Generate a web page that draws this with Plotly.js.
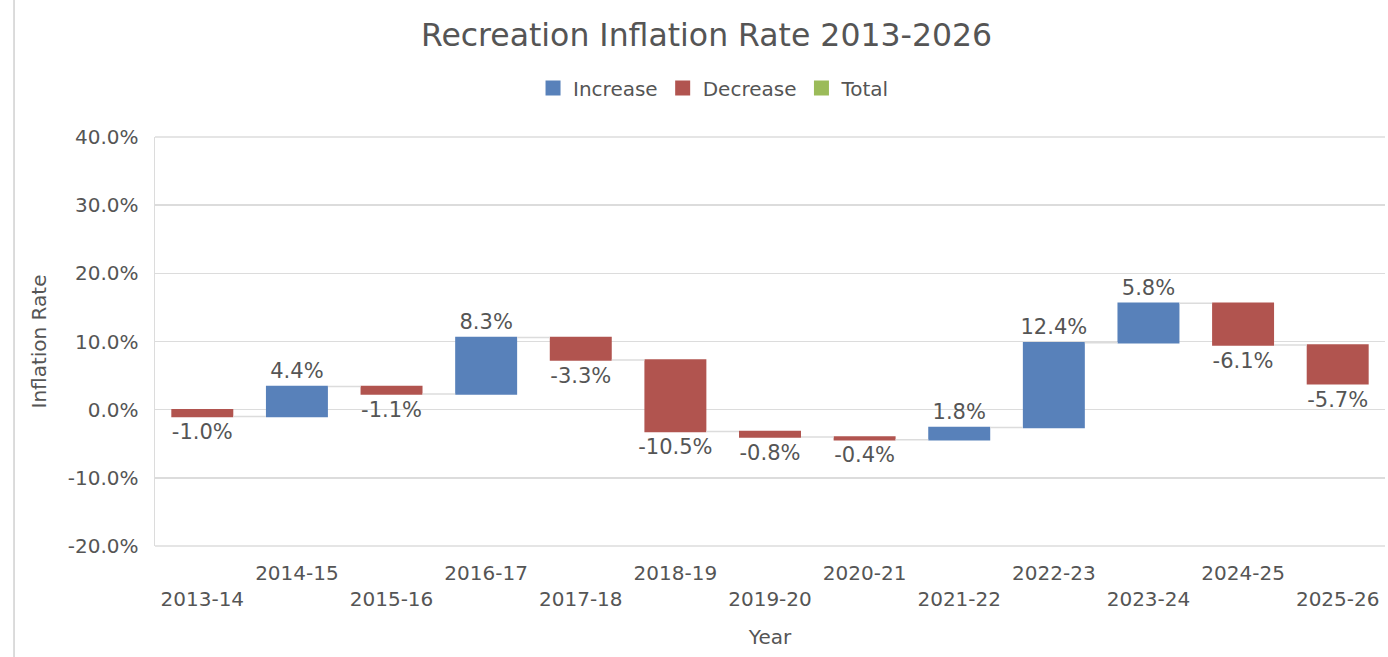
<!DOCTYPE html>
<html>
<head>
<meta charset="utf-8">
<script src="https://cdn.plot.ly/plotly-3.0.1.min.js"></script>
<style>html,body{margin:0;padding:0;background:#fff;}#chart{width:1388px;height:657px;}</style>
</head>
<body>
<div id="chart"></div>
<script>
var categories = ["2013-14","2014-15","2015-16","2016-17","2017-18","2018-19","2019-20","2020-21","2021-22","2022-23","2023-24","2024-25","2025-26"];
var changes = [-1.0, 4.4, -1.1, 8.3, -3.3, -10.5, -0.8, -0.4, 1.8, 12.4, 5.8, -6.1, -5.7];
var legendNames = ["Increase","Decrease","Total"];
var legendColors = ["#5881ba","#b1544f","#9bbb59"];
var yTickVals = [-20, -10, 0, 10, 20, 30, 40];
var yTickText = ["-20.0%","-10.0%","0.0%","10.0%","20.0%","30.0%","40.0%"];

var tickLabels = categories.map(function(c, i){ return i % 2 === 0 ? "<br>" + c : c; });
var labels = changes.map(function(v){ return v.toFixed(1) + "%"; });

var traces = [{
  type: "waterfall",
  x: categories,
  y: changes,
  measure: changes.map(function(){ return "relative"; }),
  text: labels,
  textposition: "outside",
  constraintext: "none",
  textfont: {family: "DejaVu Sans, Verdana, sans-serif", size: 21, color: "#555"},
  cliponaxis: false,
  increasing: {marker: {color: legendColors[0]}},
  decreasing: {marker: {color: legendColors[1]}},
  totals: {marker: {color: legendColors[2]}},
  connector: {mode: "between", line: {color: "#dcdcdc", width: 1.5}},
  showlegend: false,
  hoverinfo: "x+y"
}];
legendNames.forEach(function(n, i){
  traces.push({
    type: "scatter", mode: "markers", name: n,
    x: [null], y: [null],
    marker: {symbol: "square", size: 15, color: legendColors[i]},
    showlegend: true, hoverinfo: "skip"
  });
});

var layout = {
  width: 1388, height: 657,
  margin: {l: 155, r: 3, t: 137, b: 111},
  paper_bgcolor: "#fff", plot_bgcolor: "#fff",
  font: {family: "DejaVu Sans, Verdana, sans-serif", color: "#555"},
  title: {text: "Recreation Inflation Rate 2013-2026", font: {size: 31.5, color: "#555"},
          x: 0.509, xanchor: "center", y: 0.947, yanchor: "middle", yref: "container"},
  waterfallgap: 0.345,
  showlegend: true,
  legend: {orientation: "h", x: 0.4545, xanchor: "center", y: 1.12, yanchor: "middle",
           font: {size: 20, color: "#555"}, itemclick: false},
  xaxis: {
    type: "category",
    tickvals: categories, ticktext: tickLabels,
    tickfont: {size: 20, color: "#555"},
    showgrid: false, showline: false, ticks: "",
    ticklabelstandoff: 13,
    automargin: false,
    title: {text: "Year", font: {size: 20, color: "#555"}, standoff: 19}
  },
  yaxis: {
    range: [-20, 40],
    tickvals: yTickVals, ticktext: yTickText,
    tickfont: {size: 20, color: "#555"},
    showgrid: true, gridcolor: "#dcdcdc", gridwidth: 1.5,
    zeroline: true, zerolinecolor: "#dcdcdc", zerolinewidth: 1.5,
    showline: true, linecolor: "#dcdcdc", linewidth: 1.5,
    ticks: "", ticklabelstandoff: 11,
    automargin: false,
    title: {text: "Inflation Rate", font: {size: 20, color: "#555"}, standoff: 15}
  },
  shapes: [
    {type: "line", xref: "paper", yref: "paper", x0: -0.1146, x1: -0.1146, y0: -0.3, y1: 1.4,
     line: {color: "#d0d0d0", width: 1.5}},
    {type: "line", xref: "paper", yref: "paper", x0: 0, x1: 1, y0: 1, y1: 1, layer: "below",
     line: {color: "#dcdcdc", width: 1.5}},
    {type: "line", xref: "paper", yref: "paper", x0: 0, x1: 1, y0: 0, y1: 0, layer: "below",
     line: {color: "#dcdcdc", width: 1.5}}
  ]
};

Plotly.newPlot("chart", traces, layout, {displayModeBar: false, staticPlot: true});
</script>
</body>
</html>
